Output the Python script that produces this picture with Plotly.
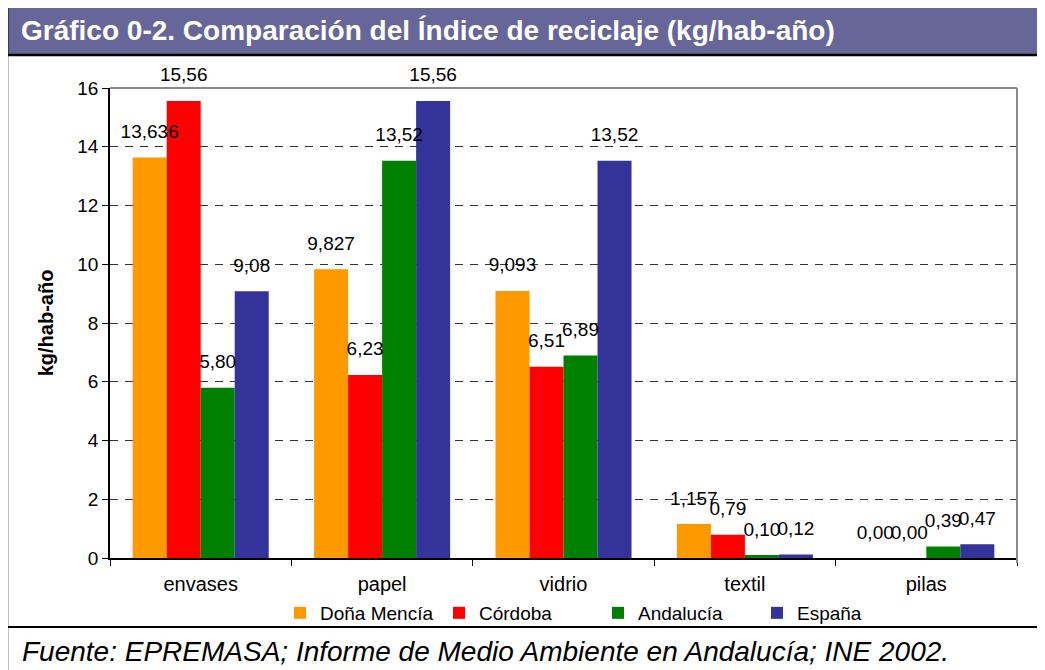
import plotly.graph_objects as go

categories = ["envases", "papel", "vidrio", "textil", "pilas"]
series_names = ["Doña Mencía", "Córdoba", "Andalucía", "España"]
dona_mencia = [13.636, 9.827, 9.093, 1.157, 0.00]
cordoba = [15.56, 6.23, 6.51, 0.79, 0.00]
andalucia = [5.80, 13.52, 6.89, 0.10, 0.39]
espana = [9.08, 15.56, 13.52, 0.12, 0.47]
dona_mencia_labels = ["13,636", "9,827", "9,093", "1,157", "0,00"]
cordoba_labels = ["15,56", "6,23", "6,51", "0,79", "0,00"]
andalucia_labels = ["5,80", "13,52", "6,89", "0,10", "0,39"]
espana_labels = ["9,08", "15,56", "13,52", "0,12", "0,47"]
y_ticks = [0, 2, 4, 6, 8, 10, 12, 14, 16]

colors = ["#FF9900", "#FF0000", "#008000", "#333399"]
values = [dona_mencia, cordoba, andalucia, espana]
labels = [dona_mencia_labels, cordoba_labels, andalucia_labels, espana_labels]

# the page body has an 8px margin, so the figure is drawn 8px in from the corner
OFF = 8
W, H = 1045 - OFF, 670 - OFF
# plot area edges in window pixels
L, R, T, B = 110, 1017, 88, 558
FONT = "Liberation Sans, Arial, sans-serif"


def px(x):
    return (x - L) / (R - L)


def py(y):
    return (B - y) / (B - T)


fig = go.Figure()
for name, vals, col in zip(series_names, values, colors):
    fig.add_trace(go.Bar(x=categories, y=vals, name=name, marker_color=col,
                         marker_line_width=0, hoverinfo="skip"))
for name, vals, labs in zip(series_names, values, labels):
    fig.add_trace(go.Scatter(x=categories, y=vals, mode="markers+text", text=labs,
                             textposition="top center",
                             textfont=dict(size=19, color="black", family=FONT),
                             marker=dict(size=22, opacity=0), showlegend=False,
                             cliponaxis=False, hoverinfo="skip"))

shapes = [
    # title bar
    dict(type="rect", xref="paper", yref="paper", x0=px(7), x1=px(1060), y0=py(55), y1=py(6),
         fillcolor="#666699", line=dict(color="black", width=2.5), layer="below"),
    # left frame line
    dict(type="line", xref="paper", yref="paper", x0=px(7), x1=px(7), y0=py(6), y1=py(680),
         line=dict(color="black", width=2.5)),
    # separator above source
    dict(type="line", xref="paper", yref="paper", x0=px(7), x1=px(1060), y0=py(627), y1=py(627),
         line=dict(color="black", width=2)),
    # plot frame top and right (gray)
    dict(type="line", xref="paper", yref="paper", x0=0, x1=1, y0=1, y1=1,
         line=dict(color="#8a8a8a", width=2)),
    dict(type="line", xref="paper", yref="paper", x0=1, x1=1, y0=py(563), y1=1,
         line=dict(color="#8a8a8a", width=2)),
]

annotations = [
    dict(text="<b>Gráfico 0-2. Comparación del Índice de reciclaje (kg/hab-año)</b>",
         xref="paper", yref="paper", x=px(19), y=py(31), xanchor="left", yanchor="middle",
         showarrow=False, font=dict(size=28, color="white", family=FONT)),
    dict(text="<i>Fuente: EPREMASA; Informe de Medio Ambiente en Andalucía; INE 2002.</i>",
         xref="paper", yref="paper", x=px(20), y=py(651), xanchor="left", yanchor="middle",
         showarrow=False, font=dict(size=28, color="black", family=FONT)),
]

fig.update_layout(
    width=W, height=H,
    margin=dict(l=L - OFF, r=W - (R - OFF), t=T - OFF, b=H - (B - OFF), pad=0),
    paper_bgcolor="white", plot_bgcolor="white",
    barmode="group", bargap=0.25, bargroupgap=0,
    scattermode="group", scattergap=0.25,
    font=dict(family=FONT, size=19, color="black"),
    showlegend=True,
    legend=dict(orientation="h", x=px(598), xanchor="center", y=py(613), yanchor="middle",
                font=dict(size=19, family=FONT), itemwidth=30, tracegroupgap=0,
                entrywidth=114, entrywidthmode="pixels",
                bgcolor="rgba(0,0,0,0)"),
    shapes=shapes,
    annotations=annotations,
)

fig.update_xaxes(showline=True, linecolor="black", linewidth=1.5, ticks="outside",
                 tickson="boundaries", ticklen=6, tickcolor="black", showgrid=False,
                 tickfont=dict(size=20, family=FONT), ticklabelstandoff=7, fixedrange=True)
fig.update_yaxes(range=[0, 16], tickvals=y_ticks, ticktext=[str(v) for v in y_ticks],
                 showline=True, linecolor="black", linewidth=1.5, ticks="outside",
                 ticklen=6, tickcolor="black", showgrid=True, gridcolor="#333333",
                 gridwidth=1, griddash="8px,7px", zeroline=False,
                 tickfont=dict(size=19, family=FONT),
                 title=dict(text="<b>kg/hab-año</b>", font=dict(size=20, family=FONT),
                            standoff=18), fixedrange=True)

fig.write_html("out.html")
